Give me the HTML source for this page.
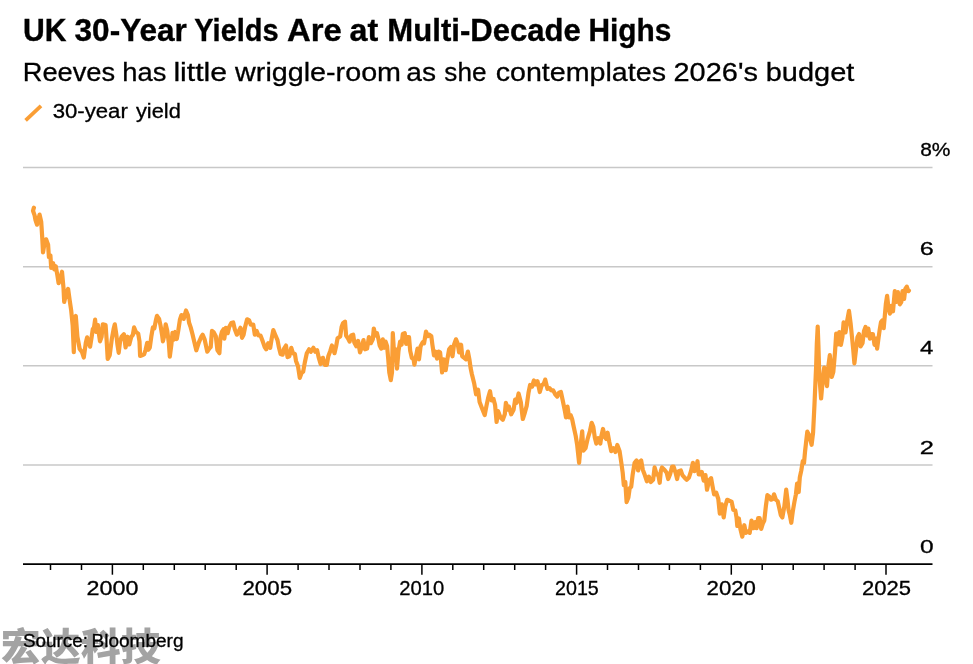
<!DOCTYPE html>
<html lang="en">
<head>
<meta charset="utf-8">
<title>UK 30-Year Yields Are at Multi-Decade Highs</title>
<style>
html,body{margin:0;padding:0;background:#fff;}
body{width:973px;height:664px;overflow:hidden;position:relative;font-family:"Liberation Sans","Noto Sans CJK SC",sans-serif;}
svg{display:block;position:absolute;left:0;top:0;}
svg text{font-family:"Liberation Sans","Noto Sans CJK SC",sans-serif;fill:#000;stroke:#000;stroke-width:0.3px;}
#title{stroke-width:0.35px;}
svg text.wm{font-family:"Noto Sans CJK SC","WenQuanYi Zen Hei",sans-serif;font-weight:900;fill:#a3a3a3;stroke:none;}
</style>
</head>
<body>
<svg width="973" height="664" viewBox="0 0 973 664">
<rect width="973" height="664" fill="#fff"/>
<text id="title" y="40.8" font-size="31" font-weight="700"><tspan x="23.0" textLength="43.52" lengthAdjust="spacingAndGlyphs">UK</tspan> <tspan x="74.54" textLength="112.35" lengthAdjust="spacingAndGlyphs">30-Year</tspan> <tspan x="194.3" textLength="84.4" lengthAdjust="spacingAndGlyphs">Yields</tspan> <tspan x="287.01" textLength="54.77" lengthAdjust="spacingAndGlyphs">Are</tspan> <tspan x="349.56" textLength="28.68" lengthAdjust="spacingAndGlyphs">at</tspan> <tspan x="387.39" textLength="193.48" lengthAdjust="spacingAndGlyphs">Multi-Decade</tspan> <tspan x="588.47" textLength="82.95" lengthAdjust="spacingAndGlyphs">Highs</tspan></text>
<text id="sub" y="80.5" font-size="26.4"><tspan x="22.78" textLength="92.34" lengthAdjust="spacingAndGlyphs">Reeves</tspan> <tspan x="122.39" textLength="44.01" lengthAdjust="spacingAndGlyphs">has</tspan> <tspan x="173.4" textLength="53.76" lengthAdjust="spacingAndGlyphs">little</tspan> <tspan x="235.1" textLength="165.94" lengthAdjust="spacingAndGlyphs">wriggle-room</tspan> <tspan x="406.37" textLength="29.66" lengthAdjust="spacingAndGlyphs">as</tspan> <tspan x="444.36" textLength="42.09" lengthAdjust="spacingAndGlyphs">she</tspan> <tspan x="495.74" textLength="170.21" lengthAdjust="spacingAndGlyphs">contemplates</tspan> <tspan x="673.53" textLength="84.42" lengthAdjust="spacingAndGlyphs">2026&#39;s</tspan> <tspan x="765.78" textLength="88.56" lengthAdjust="spacingAndGlyphs">budget</tspan></text>
<line x1="25.6" y1="120.4" x2="41" y2="105.8" stroke="#FA9E35" stroke-width="3.8"/>
<text id="leg" y="117.9" font-size="20"><tspan x="52.67" textLength="75.18" lengthAdjust="spacingAndGlyphs">30-year</tspan> <tspan x="135.93" textLength="44.89" lengthAdjust="spacingAndGlyphs">yield</tspan></text>
<g stroke="#c8c8c8" stroke-width="1.5">
<line x1="23" y1="167.5" x2="932.5" y2="167.5"/>
<line x1="23" y1="266.65" x2="932.5" y2="266.65"/>
<line x1="23" y1="365.85" x2="932.5" y2="365.85"/>
<line x1="23" y1="465" x2="932.5" y2="465"/>
</g>
<g font-size="19">
<text x="920.17" y="156.1" textLength="30.32" lengthAdjust="spacingAndGlyphs">8%</text>
<text x="919.67" y="255.3" textLength="14.02" lengthAdjust="spacingAndGlyphs">6</text>
<text x="919.97" y="354.2" textLength="13.36" lengthAdjust="spacingAndGlyphs">4</text>
<text x="919.66" y="454.3" textLength="14.19" lengthAdjust="spacingAndGlyphs">2</text>
<text x="920.03" y="553" textLength="13.63" lengthAdjust="spacingAndGlyphs">0</text>
</g>
<path d="M33.9,207.7 L33,210.8 L34.6,215.4 L35.5,220 L37,224.7 L38.6,218.5 L39.6,214.6 L41.2,221.6 L42.3,238.5 L43,252.4 L44.3,244.7 L46.1,239.3 L48.1,244.7 L48.9,257 L50.4,255.5 L51.2,267.8 L53.1,263.2 L54.3,269.4 L55.8,266.3 L57.4,275.5 L58.6,283.2 L60.1,280.2 L62,271.7 L63.5,288 L64.2,302 L66.1,293.5 L68.1,288.9 L69.6,299.7 L71.2,310.5 L72.7,325.9 L73.8,352.1 L74.7,319.7 L75.8,315.9 L77.4,336.7 L79.7,349 L82,352.1 L83.8,357.5 L85.8,342.8 L87.1,337.4 L88.6,342.8 L90.1,346.7 L91.7,336.7 L92.8,329 L94,327.5 L95.1,319.7 L96.3,332 L97.9,325.1 L98.9,333.6 L100,341.3 L101.6,336.7 L102.8,324.3 L105.6,325.1 L106.6,339.7 L107.7,359 L109.7,355.2 L111.7,339.7 L113.6,329 L114.8,324.3 L116.4,335.1 L117.4,344.4 L118.7,352.8 L120.1,341.3 L121.6,336.7 L123.9,334.3 L125.6,347.5 L127.5,336.7 L129.3,344.4 L131.3,336.7 L132.8,335.1 L134.1,327.4 L135.9,332 L138.2,333.6 L139.5,341.3 L140.1,355.9 L142.1,355.2 L144.1,354.4 L145.6,349.8 L147.2,342.8 L148.3,349.8 L149.8,347.5 L151.3,336.7 L152.9,327.4 L154.4,328.2 L156,319.7 L157,315.9 L159.1,318.9 L160.6,325.9 L162.1,335.1 L162.9,341.3 L164.4,335.1 L165.7,324.3 L167.2,330.5 L168.8,342.8 L169.8,356.7 L171.4,344.4 L172.5,332.8 L173.7,339.7 L175.2,332 L176.8,339 L178.3,330.5 L179.9,319.7 L181.4,315.1 L183.7,318.9 L186,310.5 L187.9,315.1 L189.1,322.8 L190.7,327.4 L192.5,334.3 L194.5,342.8 L196.3,350.3 L198.9,342.4 L201.2,337 L202.7,334.7 L204.6,339.3 L206.1,346.3 L207.3,351.7 L209.2,348.6 L210.7,347 L212,330.9 L213.8,332.4 L215.8,336.2 L217.4,350.1 L219.4,353.2 L220.4,337.8 L222,331.6 L223.5,329.3 L224.3,338.6 L225.8,327.8 L227.7,333.2 L229.2,327 L231.2,323.1 L233.2,322.4 L234.8,329.3 L236.9,334.7 L238.9,330.9 L240.5,327.8 L242,337.8 L243.6,334.7 L245.1,327 L247.1,319.3 L249,320.1 L250.8,324.7 L253.3,324.7 L254.8,334.7 L256.7,330.9 L258.5,335.5 L260.5,335.5 L262.8,341.6 L264.7,347 L266.2,349.3 L268.2,343.2 L270.2,347.8 L271.8,337.8 L273.3,330.1 L275.2,334.7 L277.5,340.1 L279,347.8 L280.6,354 L282.6,354.7 L284.1,348.6 L286,345.5 L287.5,357.1 L289.3,356.3 L291.3,347.8 L292.9,353.2 L294.9,354 L296,360.9 L298,366.3 L299.8,377.9 L301.4,373.2 L303.2,371.7 L304.8,362.5 L306.8,353.2 L309.1,349.3 L310.9,351.7 L313.4,347.8 L315.2,351.7 L317.1,350.1 L318.6,357.1 L320.6,364 L322.9,357.8 L324.8,364.8 L326.8,364.8 L328.3,356.3 L330.3,350.9 L331.9,345.5 L333.4,349.3 L334.5,353.2 L336.1,346.3 L337.6,338.2 L340.2,336.5 L341.6,327 L343,323.1 L345,321.6 L346.1,335.5 L348.1,338.5 L349.6,341.6 L351.2,335.5 L353.2,334.7 L354.3,342.4 L356.3,346.2 L358.1,340.9 L360,352.4 L361.5,347.8 L363.5,340.1 L365.1,349.3 L367.1,348.6 L368.9,337 L370.8,343.2 L372.8,339.3 L373.8,328.5 L375.4,335.5 L376.9,333.1 L378.5,339.3 L379.7,345.5 L381.2,348.6 L382.8,339.3 L384.3,347.8 L385.6,341.6 L387.1,346.2 L388.2,358.6 L389.3,372.5 L390.8,380.2 L392,372.5 L392.8,333.1 L393.9,350.9 L395.4,349.3 L397,368.6 L398.5,350.9 L400.1,341.6 L401.6,344.7 L402.8,333.9 L404.7,333.1 L406.2,343.9 L407.5,337 L409,337 L410.2,350.9 L411.8,357.8 L413.6,359.3 L414.4,364.7 L415.9,357 L417.5,348.6 L419,359.3 L420.6,346.2 L422.6,342.4 L424.1,343.2 L426,331.6 L427.8,336.2 L429.3,334.7 L431.3,336.2 L432.4,344.7 L434,355.5 L435.5,351.6 L437,358.6 L438.6,351.6 L440.1,352.4 L441.4,364.7 L442.1,372.5 L443.7,359.3 L445.7,370.1 L447.2,360.1 L449.1,349.3 L450.9,347 L452.5,356.3 L454,344.7 L456,339.3 L457.6,343.2 L459.1,352.4 L461.1,344.7 L462.2,356.3 L464.2,357.8 L466,359.3 L467.9,351.6 L469.4,359.3 L470.6,368 L471.9,374.2 L474.2,383.5 L476.1,394.3 L478.1,389.7 L479.6,402 L482,408.2 L484.7,415.1 L486.6,405.1 L488.1,398.1 L490,391.2 L491.5,400.5 L493.5,398.9 L495.1,405.1 L496.6,422 L498.1,411.2 L500.5,417.4 L502.8,419.7 L504.8,414.3 L505.9,402.8 L507.9,409.7 L508.9,406.6 L511.2,414.3 L513.6,409.7 L515.1,399.7 L516.6,402.8 L518.6,393.5 L520.8,402 L522.8,419 L524.8,412.8 L526.7,405.9 L528.5,392.7 L530.1,385 L532.1,386.6 L533.9,380.4 L535.6,384.3 L537.5,381.2 L539.8,392 L541.8,385 L543.6,384.3 L545.2,379.6 L547.5,388.9 L549.5,388.1 L551.3,390.4 L553.2,390.4 L555.2,394.3 L557.2,396.6 L559,392.7 L560.9,392 L562.9,401.2 L564.9,411.2 L566,417.4 L567.5,406.6 L569.1,417.4 L570.6,415.1 L572.1,419 L573.7,426.7 L575.7,435.9 L577.2,445.2 L579.1,462.9 L580.6,445.2 L582.2,431.3 L583.4,450.6 L585.5,448.2 L587.6,439 L589.9,431.3 L591.7,422.8 L593.3,426.7 L594.8,437.5 L596.3,443.6 L598.3,438.2 L600.3,443.6 L601.4,435.9 L603,429 L605,437.5 L606.2,438.9 L607.6,432.7 L609.3,442 L611.2,451.2 L613.5,448.1 L615.5,452 L617.3,445 L619.6,451.2 L621.2,462 L622.7,472.8 L623.8,485.1 L625.3,482 L626.6,502.1 L628.4,497.5 L629.7,488.2 L631.2,486.7 L632.7,474.3 L634.6,462.8 L636.6,460.5 L638.1,470.5 L639.7,462 L641.2,460.5 L642.8,469.7 L644.8,475.1 L646.9,481.3 L648.9,476.6 L650.8,482 L653.1,479.7 L654.6,467.4 L656.6,474.3 L658.2,474.3 L659.7,482.8 L660.8,471.2 L662,467.4 L664.4,469.7 L666.7,472.8 L668.2,479 L670.1,474.3 L672.1,466.6 L673.6,466.6 L675.6,472.8 L677.1,479 L678.7,471.2 L680.8,470.5 L682.4,475.1 L684.4,477.4 L686.7,479.7 L689,477.4 L691,471.2 L692.9,462.8 L694.4,471.2 L696,469.7 L697.5,461.2 L698.7,474.3 L700.3,474.3 L701.8,472 L703.7,480.5 L705.5,475.1 L707,489.7 L709.1,480.5 L711.1,478.2 L712.6,486.7 L714.1,494.4 L716.3,492.8 L718.3,499 L719.8,513.6 L721.8,504.4 L723.7,517.5 L725.2,506.7 L727.1,499.8 L729.4,500.8 L731.6,501.6 L733.3,509.7 L735.3,510.5 L736.6,518 L737.3,526 L738.9,518.5 L740.4,529 L742.3,536.7 L744.3,525.2 L745.8,532.9 L747.8,531.3 L749.7,532.9 L751.5,520.5 L753.5,528.2 L755.1,522.1 L756.6,528.2 L758.1,518.2 L759.7,518.2 L761.2,529 L762.8,523.6 L764.3,520.5 L765.9,505.9 L767.4,495.1 L769.4,496.6 L770.9,499.7 L772.8,499 L774,494.3 L775.9,499.7 L777.7,501.3 L779.3,508.2 L780.8,515.1 L782.3,517.5 L784.3,506.7 L786.2,489.7 L787.4,499 L788.5,509.7 L789.7,514.4 L791.3,522.8 L792.8,511.3 L794.4,502 L795.9,494.3 L797.1,483.5 L798.7,492 L799.8,477.4 L801.3,470.4 L802.8,461 L804,463 L805,452 L806,443 L807.3,431.7 L809.3,435.5 L811.6,444.8 L813.1,432.5 L814.4,406.2 L815.4,383.1 L816.2,364.6 L816.8,344 L817.7,326.6 L818.4,345 L819.3,375.4 L821.1,398.5 L822.7,380 L824.2,367.5 L825.5,378 L827,386.2 L828.5,365 L829.8,355.2 L830.8,366 L831.8,377 L833.3,372 L834,364 L835,352.1 L836.2,333.6 L837.8,344.4 L839.3,332 L840.9,344.8 L842.4,337.1 L843.6,322.4 L845.5,332.4 L847.3,320.1 L849,310.9 L850.6,323.2 L852,337.1 L853.2,349.4 L854.4,363.3 L856,349.4 L857.5,337.1 L859.1,334 L860.6,346.3 L862.5,343.2 L864,330.9 L865.5,327 L867.1,335.5 L868.3,328.6 L869.9,338.6 L871.4,334 L872.9,334 L874.5,344.8 L876,338.6 L877.1,348.6 L878.6,337.5 L879.7,329.8 L881,322 L882.2,320.5 L883.7,328.2 L884.8,315.9 L885.9,303.5 L887.1,295.8 L888.3,306.6 L889.9,313.6 L891.4,305.9 L893,311.3 L894.1,298.9 L894.8,291.2 L896.4,302 L897.9,292 L899.8,304.3 L901.3,302 L902.5,291.2 L904.1,298.9 L905.3,288.9 L906.8,286.6 L908.4,291.2 L908.9,290.6" fill="none" stroke="#FA9E35" stroke-width="4.2" stroke-linejoin="round" stroke-linecap="round"/>
<line x1="23" y1="564.2" x2="932.5" y2="564.2" stroke="#000" stroke-width="1.8"/>
<g stroke="#000" stroke-width="1.5">
<line x1="50.5" y1="564" x2="50.5" y2="570"/>
<line x1="81.5" y1="564" x2="81.5" y2="570"/>
<line x1="112.4" y1="564" x2="112.4" y2="574.7"/>
<line x1="143.3" y1="564" x2="143.3" y2="570"/>
<line x1="174.3" y1="564" x2="174.3" y2="570"/>
<line x1="205.2" y1="564" x2="205.2" y2="570"/>
<line x1="236.2" y1="564" x2="236.2" y2="570"/>
<line x1="267.1" y1="564" x2="267.1" y2="574.7"/>
<line x1="298.1" y1="564" x2="298.1" y2="570"/>
<line x1="329" y1="564" x2="329" y2="570"/>
<line x1="360" y1="564" x2="360" y2="570"/>
<line x1="390.9" y1="564" x2="390.9" y2="570"/>
<line x1="421.9" y1="564" x2="421.9" y2="574.7"/>
<line x1="452.8" y1="564" x2="452.8" y2="570"/>
<line x1="483.7" y1="564" x2="483.7" y2="570"/>
<line x1="514.7" y1="564" x2="514.7" y2="570"/>
<line x1="545.6" y1="564" x2="545.6" y2="570"/>
<line x1="576.6" y1="564" x2="576.6" y2="574.7"/>
<line x1="607.5" y1="564" x2="607.5" y2="570"/>
<line x1="638.5" y1="564" x2="638.5" y2="570"/>
<line x1="669.4" y1="564" x2="669.4" y2="570"/>
<line x1="700.4" y1="564" x2="700.4" y2="570"/>
<line x1="731.3" y1="564" x2="731.3" y2="574.7"/>
<line x1="762.2" y1="564" x2="762.2" y2="570"/>
<line x1="793.2" y1="564" x2="793.2" y2="570"/>
<line x1="824.1" y1="564" x2="824.1" y2="570"/>
<line x1="855.1" y1="564" x2="855.1" y2="570"/>
<line x1="886" y1="564" x2="886" y2="574.7"/>
</g>
<g font-size="19.8">
<text x="86.62" y="595" textLength="51.88" lengthAdjust="spacingAndGlyphs">2000</text>
<text x="242.47" y="595" textLength="49.59" lengthAdjust="spacingAndGlyphs">2005</text>
<text x="399.18" y="595" textLength="45.01" lengthAdjust="spacingAndGlyphs">2010</text>
<text x="555.01" y="595" textLength="43.76" lengthAdjust="spacingAndGlyphs">2015</text>
<text x="706.58" y="595" textLength="49.38" lengthAdjust="spacingAndGlyphs">2020</text>
<text x="862.09" y="595" textLength="48.96" lengthAdjust="spacingAndGlyphs">2025</text>
</g>
<text class="wm" x="0.7" y="659.7" font-size="38" textLength="160" lengthAdjust="spacingAndGlyphs">宏达科技</text>
<text id="src" y="647.3" font-size="18"><tspan x="22.91" textLength="65.01" lengthAdjust="spacingAndGlyphs">Source:</tspan> <tspan x="91.51" textLength="91.99" lengthAdjust="spacingAndGlyphs">Bloomberg</tspan></text>
</svg>
</body>
</html>
